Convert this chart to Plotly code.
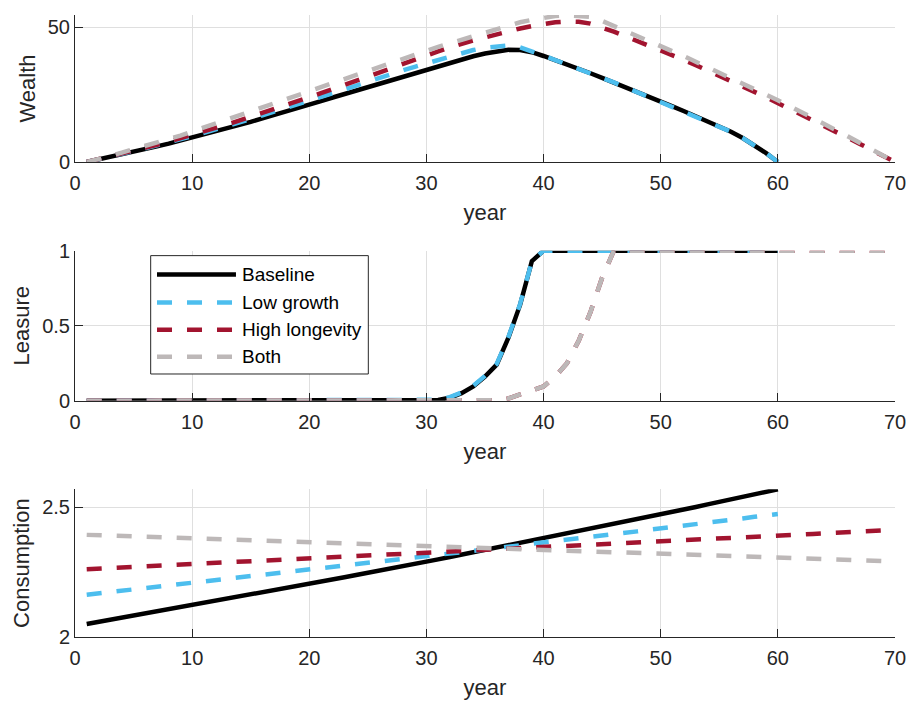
import plotly.graph_objects as go

# ---------------------------------------------------------------- data
years_work = list(range(1, 61))     # baseline / low growth horizon
years_long = list(range(1, 71))     # high longevity / both horizon

wealth_baseline = [
    0.0, 0.9, 1.8, 2.8, 3.8, 4.8, 5.8, 6.8, 7.9, 9.0,
    10.1, 11.3, 12.5, 13.7, 14.9, 16.2, 17.4, 18.7, 20.0, 21.3,
    22.6, 23.9, 25.2, 26.5, 27.8, 29.1, 30.4, 31.7, 33.0, 34.3,
    35.6, 36.9, 38.1, 39.2, 40.2, 41.0, 41.6, 41.5, 40.7, 39.3,
    37.8, 36.2, 34.6, 32.9, 31.2, 29.5, 27.7, 25.9, 24.1, 22.3,
    20.6, 18.8, 17.0, 15.2, 13.3, 11.2, 8.9, 6.3, 3.3, 0.0]
wealth_lowgrowth = [
    0.0, 0.95, 1.9, 3.0, 4.1, 5.1, 6.2, 7.2, 8.4, 9.6,
    10.8, 12.0, 13.3, 14.6, 15.9, 17.3, 18.6, 20.0, 21.3, 22.7,
    24.1, 25.5, 26.9, 28.4, 29.8, 31.2, 32.6, 34.0, 35.3, 36.6,
    37.9, 39.2, 40.5, 41.5, 42.4, 43.0, 43.2, 42.5, 41.1, 39.5,
    37.8, 36.2, 34.6, 32.9, 31.2, 29.5, 27.7, 25.9, 24.1, 22.3,
    20.6, 18.8, 17.0, 15.2, 13.3, 11.2, 8.9, 6.3, 3.3, 0.0]
wealth_longevity = [
    0.0, 1.0, 2.0, 3.1, 4.2, 5.3, 6.4, 7.6, 8.8, 10.0,
    11.3, 12.6, 13.9, 15.3, 16.7, 18.1, 19.6, 21.0, 22.5, 24.0,
    25.5, 27.0, 28.6, 30.1, 31.7, 33.3, 34.9, 36.5, 38.0, 39.5,
    41.0, 42.5, 43.9, 45.1, 46.2, 47.4, 48.5, 49.5, 50.4, 51.2,
    51.8, 52.1, 52.0, 51.3, 49.9, 48.3, 46.6, 44.9, 43.2, 41.4,
    39.6, 37.8, 35.9, 34.0, 32.1, 30.1, 28.1, 26.0, 24.0, 21.9,
    19.8, 17.7, 15.5, 13.3, 11.1, 8.9, 6.7, 4.5, 2.3, 0.0]
wealth_both = [
    0.0, 1.0, 2.2, 3.5, 4.7, 5.9, 7.1, 8.4, 9.8, 11.3,
    12.8, 14.3, 15.8, 17.3, 18.8, 20.3, 21.8, 23.3, 24.8, 26.3,
    27.8, 29.3, 30.8, 32.3, 33.9, 35.5, 37.0, 38.5, 39.9, 41.3,
    42.7, 44.0, 45.3, 46.6, 48.0, 49.3, 50.6, 51.8, 52.7, 53.5,
    54.1, 54.4, 54.3, 53.8, 52.3, 50.5, 48.5, 46.6, 44.8, 42.9,
    41.05, 39.2, 37.2, 35.25, 33.3, 31.25, 29.2, 27.05, 25.0, 22.9,
    20.75, 18.6, 16.35, 14.05, 11.75, 9.45, 7.15, 4.8, 2.45, 0.0]

leisure_baseline = [
    0, 0, 0, 0, 0, 0, 0, 0, 0, 0,
    0, 0, 0, 0, 0, 0, 0, 0, 0, 0,
    0, 0, 0, 0, 0, 0, 0, 0, 0, 0,
    0.005, 0.02, 0.05, 0.095, 0.16, 0.24, 0.42, 0.64, 0.93, 1,
    1, 1, 1, 1, 1, 1, 1, 1, 1, 1,
    1, 1, 1, 1, 1, 1, 1, 1, 1, 1]
leisure_lowgrowth = [
    0, 0, 0, 0, 0, 0, 0, 0, 0, 0,
    0, 0, 0, 0, 0, 0, 0, 0, 0, 0,
    0, 0, 0, 0, 0, 0, 0, 0, 0, 0,
    0.006, 0.024, 0.055, 0.10, 0.165, 0.245, 0.425, 0.645, 0.93, 1,
    1, 1, 1, 1, 1, 1, 1, 1, 1, 1,
    1, 1, 1, 1, 1, 1, 1, 1, 1, 1]
leisure_longevity = [
    0, 0, 0, 0, 0, 0, 0, 0, 0, 0,
    0, 0, 0, 0, 0, 0, 0, 0, 0, 0,
    0, 0, 0, 0, 0, 0, 0, 0, 0, 0,
    0, 0, 0, 0, 0, 0.003, 0.015, 0.04, 0.065, 0.095,
    0.16, 0.25, 0.40, 0.59, 0.82, 1, 1, 1, 1, 1,
    1, 1, 1, 1, 1, 1, 1, 1, 1, 1,
    1, 1, 1, 1, 1, 1, 1, 1, 1, 1]
leisure_both = [
    0, 0, 0, 0, 0, 0, 0, 0, 0, 0,
    0, 0, 0, 0, 0, 0, 0, 0, 0, 0,
    0, 0, 0, 0, 0, 0, 0, 0, 0, 0,
    0, 0, 0, 0, 0, 0.003, 0.015, 0.04, 0.065, 0.095,
    0.16, 0.25, 0.40, 0.59, 0.82, 1, 1, 1, 1, 1,
    1, 1, 1, 1, 1, 1, 1, 1, 1, 1,
    1, 1, 1, 1, 1, 1, 1, 1, 1, 1]

cons_baseline = [
    2.050, 2.058, 2.066, 2.074, 2.082, 2.090, 2.098, 2.106, 2.114, 2.122,
    2.130, 2.138, 2.146, 2.155, 2.163, 2.171, 2.180, 2.188, 2.196, 2.205,
    2.213, 2.222, 2.230, 2.239, 2.247, 2.256, 2.265, 2.273, 2.282, 2.291,
    2.299, 2.308, 2.317, 2.326, 2.335, 2.344, 2.353, 2.362, 2.371, 2.380,
    2.389, 2.398, 2.408, 2.417, 2.426, 2.435, 2.445, 2.454, 2.463, 2.473,
    2.482, 2.492, 2.501, 2.511, 2.521, 2.530, 2.540, 2.550, 2.560, 2.569]
cons_lowgrowth = [
    2.163, 2.168, 2.173, 2.178, 2.183, 2.188, 2.193, 2.198, 2.203, 2.208,
    2.213, 2.218, 2.223, 2.228, 2.233, 2.238, 2.243, 2.248, 2.254, 2.259,
    2.264, 2.269, 2.274, 2.279, 2.285, 2.290, 2.295, 2.300, 2.306, 2.311,
    2.316, 2.321, 2.327, 2.332, 2.337, 2.343, 2.348, 2.353, 2.359, 2.364,
    2.369, 2.375, 2.380, 2.386, 2.391, 2.396, 2.402, 2.407, 2.413, 2.418,
    2.424, 2.429, 2.435, 2.441, 2.446, 2.452, 2.457, 2.463, 2.469, 2.474]
cons_longevity = [
    2.2615, 2.2636, 2.2658, 2.2679, 2.2701, 2.2722, 2.2743, 2.2765, 2.2786, 2.2808,
    2.2829, 2.2851, 2.2872, 2.2894, 2.2915, 2.2937, 2.2958, 2.2980, 2.3001, 2.3023,
    2.3044, 2.3066, 2.3088, 2.3110, 2.3131, 2.3153, 2.3175, 2.3197, 2.3218, 2.3240,
    2.3262, 2.3284, 2.3306, 2.3328, 2.3350, 2.3372, 2.3394, 2.3415, 2.3437, 2.3459,
    2.3481, 2.3503, 2.3525, 2.3548, 2.3570, 2.3592, 2.3614, 2.3636, 2.3659, 2.3681,
    2.3703, 2.3725, 2.3748, 2.3770, 2.3793, 2.3815, 2.3837, 2.3860, 2.3882, 2.3905,
    2.3927, 2.3950, 2.3972, 2.3995, 2.4017, 2.4040, 2.4062, 2.4085, 2.4107, 2.4130]
cons_both = [
    2.3935, 2.3920, 2.3905, 2.3890, 2.3875, 2.3860, 2.3844, 2.3829, 2.3814, 2.3799,
    2.3784, 2.3769, 2.3754, 2.3739, 2.3724, 2.3709, 2.3693, 2.3678, 2.3663, 2.3648,
    2.3633, 2.3618, 2.3603, 2.3588, 2.3573, 2.3559, 2.3544, 2.3529, 2.3514, 2.3499,
    2.3484, 2.3469, 2.3454, 2.3440, 2.3425, 2.3410, 2.3395, 2.3380, 2.3366, 2.3351,
    2.3336, 2.3321, 2.3306, 2.3292, 2.3277, 2.3262, 2.3247, 2.3232, 2.3218, 2.3203,
    2.3188, 2.3173, 2.3159, 2.3144, 2.3130, 2.3115, 2.3100, 2.3086, 2.3071, 2.3057,
    2.3042, 2.3027, 2.3013, 2.2998, 2.2984, 2.2969, 2.2955, 2.2940, 2.2926, 2.2911]

scenario_names = ["Baseline", "Low growth", "High longevity", "Both"]
x_ticks = [0, 10, 20, 30, 40, 50, 60, 70]
wealth_ticks = [0, 50]
leisure_ticks = [0, 0.5, 1]
cons_ticks = [2, 2.5]

# ---------------------------------------------------------------- styling
FONT = "Liberation Sans, Arial, Helvetica, sans-serif"
INK = "#262626"
GRID = "#dfdfdf"
LW = 4.5
DASH = "15px,15px"
styles = [
    dict(color="#000000", width=LW, dash="solid"),
    dict(color="#4DBEEE", width=LW, dash=DASH),
    dict(color="#A2142F", width=LW, dash=DASH),
    dict(color="#BDB8B8", width=LW, dash=DASH),
]

panels = [
    ("", [years_work, years_work, years_long, years_long],
     [wealth_baseline, wealth_lowgrowth, wealth_longevity, wealth_both]),
    ("2", [years_work, years_work, years_long, years_long],
     [leisure_baseline, leisure_lowgrowth, leisure_longevity, leisure_both]),
    ("3", [years_work, years_work, years_long, years_long],
     [cons_baseline, cons_lowgrowth, cons_longevity, cons_both]),
]

fig = go.Figure()
for suffix, xs, ys in panels:
    for name, x, y, st in zip(scenario_names, xs, ys, styles):
        fig.add_trace(go.Scatter(
            x=x, y=y, name=name, mode="lines", line=st,
            xaxis="x" + suffix, yaxis="y" + suffix, showlegend=False,
        ))


def x_axis(anchor):
    return dict(
        anchor=anchor, domain=[0, 1], range=[0, 70], tickvals=x_ticks,
        automargin=False,
        ticks="inside", ticklen=8, tickwidth=1, tickcolor=INK,
        ticklabelstandoff=3,
        showline=True, linecolor=INK, linewidth=1,
        showgrid=True, gridcolor=GRID, gridwidth=1, zeroline=False,
        tickfont=dict(family=FONT, size=20, color=INK),
        title=dict(text="year", font=dict(family=FONT, size=22, color=INK),
                   standoff=11),
    )


def y_axis(anchor, domain, rng, ticks, label):
    return dict(
        anchor=anchor, domain=domain, range=rng, tickvals=ticks,
        automargin=False,
        ticks="inside", ticklen=8, tickwidth=1, tickcolor=INK,
        showline=True, linecolor=INK, linewidth=1,
        showgrid=True, gridcolor=GRID, gridwidth=1, zeroline=False,
        tickfont=dict(family=FONT, size=20, color=INK),
        title=dict(text=label, font=dict(family=FONT, size=22, color=INK),
                   standoff=6),
    )


# custom legend in the Leasure panel (domain coordinates of x2 / y2)
legend_shapes = [dict(
    type="rect", xref="x2 domain", yref="y2 domain",
    x0=0.0923, x1=0.3577, y0=0.178, y1=0.967,
    line=dict(color=INK, width=1), fillcolor="white", layer="above",
)]
legend_notes = []
row_y = [0.842, 0.655, 0.473, 0.293]
for name, st, yy in zip(scenario_names, styles, row_y):
    legend_shapes.append(dict(
        type="line", xref="x2 domain", yref="y2 domain",
        x0=0.100, x1=0.1963, y0=yy, y1=yy,
        line=dict(color=st["color"], width=LW, dash=st["dash"]), layer="above",
    ))
    legend_notes.append(dict(
        text=name, xref="x2 domain", yref="y2 domain", x=0.2012, y=yy,
        xanchor="left", yanchor="middle", showarrow=False,
        font=dict(family=FONT, size=19, color="#000000"),
    ))

fig.update_layout(
    width=909, height=704,
    margin=dict(l=75, r=14, t=15, b=67, autoexpand=False),
    paper_bgcolor="white", plot_bgcolor="white",
    showlegend=False,
    xaxis=x_axis("y"),
    yaxis=y_axis("x", [0.76367, 1.0], [0, 54.5], wealth_ticks, "Wealth"),
    xaxis2=x_axis("y2"),
    yaxis2=y_axis("x2", [0.3799, 0.6211], [0, 1], leisure_ticks, "Leasure"),
    xaxis3=x_axis("y3"),
    yaxis3=y_axis("x3", [0.0, 0.2375], [2, 2.5692], cons_ticks, "Consumption"),
    shapes=legend_shapes,
    annotations=legend_notes,
)

fig.write_html("out.html")
